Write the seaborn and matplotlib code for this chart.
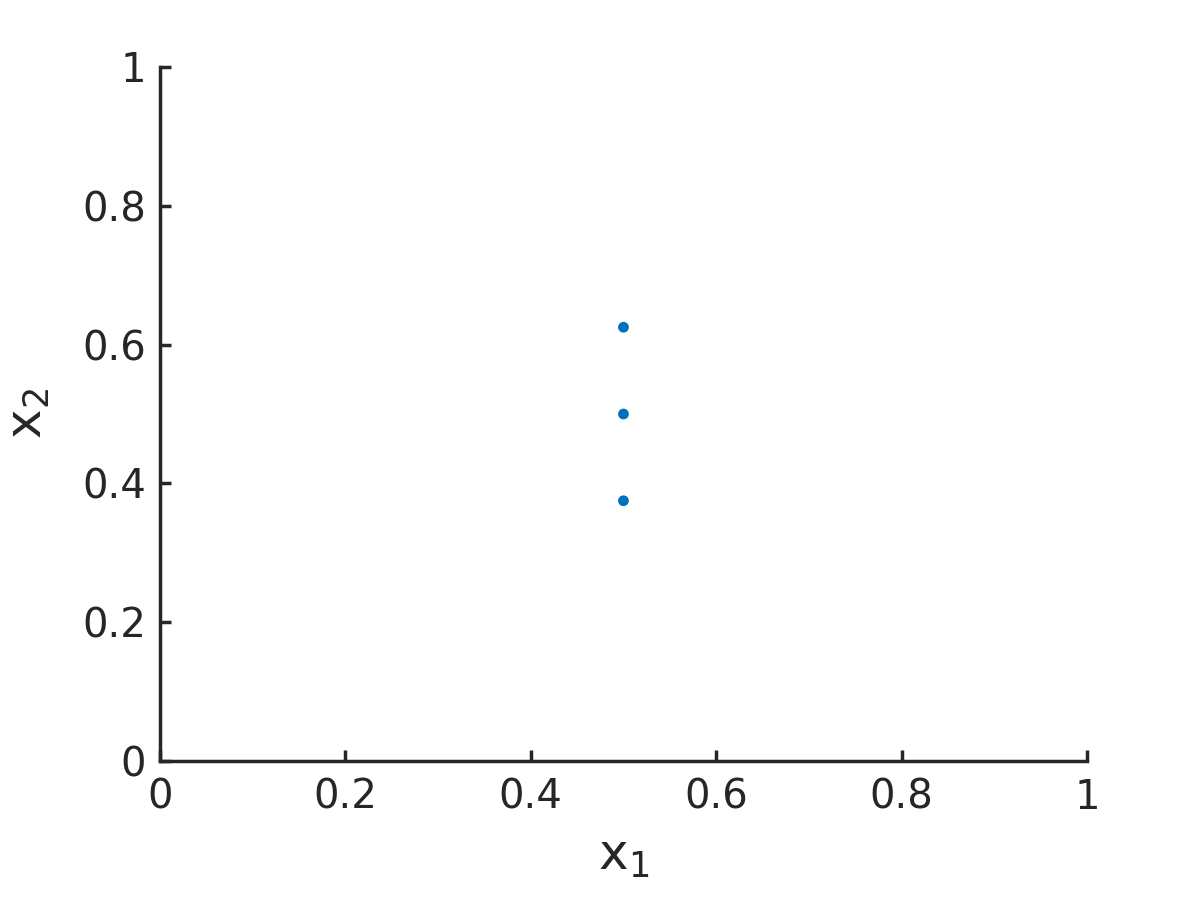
import numpy as np
import pandas as pd
import seaborn as sns
import matplotlib
matplotlib.use("Agg")
import matplotlib.pyplot as plt

# data
x1 = [0.5, 0.5, 0.5]
x2 = [0.375, 0.5, 0.625]
df = pd.DataFrame({"x1": x1, "x2": x2})

sns.set_style("ticks")
plt.rcParams['font.family'] = ['DejaVu Sans']
plt.rcParams['mathtext.default'] = 'regular'
dark = "#262626"

fig = plt.figure(figsize=(12, 9), dpi=100)
ax = fig.add_axes([0.1333, 0.1544, 0.7725, 0.7712])

sns.scatterplot(data=df, x="x1", y="x2", color="#0072BD", s=60, edgecolor="none", ax=ax)

ax.set_xlim(0, 1)
ax.set_ylim(0, 1)
ticks = [0, 0.2, 0.4, 0.6, 0.8, 1]
labels = ["0", "0.2", "0.4", "0.6", "0.8", "1"]
ax.set_xticks(ticks)
ax.set_xticklabels(labels)
ax.set_yticks(ticks)
ax.set_yticklabels(labels)
ax.tick_params(direction="in", length=8, width=2.5, labelsize=29, colors=dark)
ax.tick_params(axis="x", pad=12)
ax.tick_params(axis="y", pad=10)
ax.set_xlabel("x$_{1}$", fontsize=36, color=dark, labelpad=10)
ax.set_ylabel("x$_{2}$", fontsize=36, color=dark, labelpad=22)
for s in ["left", "bottom"]:
    ax.spines[s].set_linewidth(2.5)
    ax.spines[s].set_color(dark)
sns.despine(ax=ax)

fig.savefig("out.png", dpi=100)
